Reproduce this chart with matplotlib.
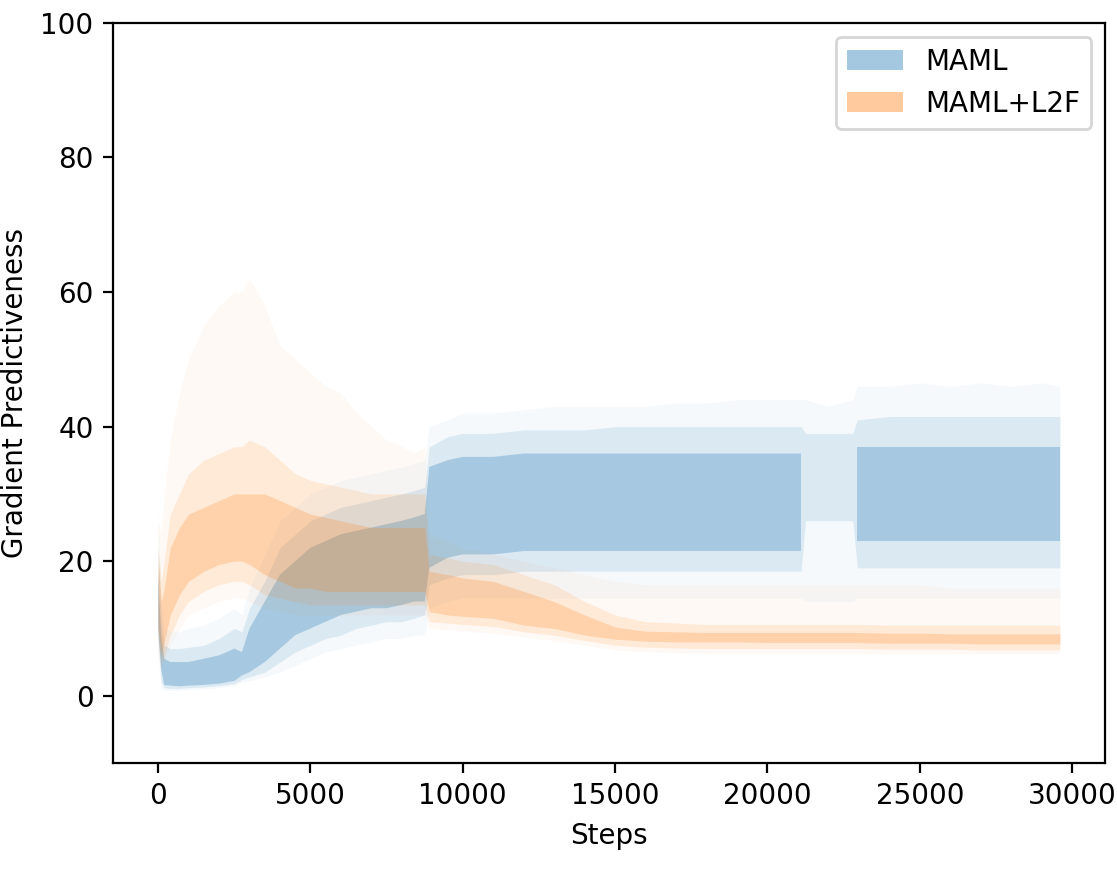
import numpy as np
import matplotlib
matplotlib.use("Agg")
import matplotlib.pyplot as plt
from matplotlib.patches import Patch

nan = float("nan")

steps = [0, 100, 200, 400, 700, 1000, 1500, 2000, 2500, 2750, 3000, 3500, 4000, 4500,
         5000, 5500, 6000, 6500, 7000, 7500, 8000, 8400, 8750, 8900, 9500, 10000,
         11000, 12000, 13000, 14000, 15000, 16000, 17000, 18000, 19000, 20000, 21000,
         21100, 21250, 22000, 22800, 22950, 24000, 25000, 26000, 27000, 28000, 29000, 29600]

# MAML: dense core, middle and faint outer envelopes
maml_core_lo = [10, 4, 1.6, 1.5, 1.4, 1.5, 1.6, 1.8, 2.2, 3.0, 3.5, 5, 7, 9, 10, 11, 12, 12.5, 13,
                13, 13.5, 14, 14, 19, 20.5, 21, 21, 21.5, 21.5, 21.5, 21.5, 21.5, 21.5, 21.5, 21.5,
                21.5, 21.5, 21.5, nan, nan, nan, 23, 23, 23, 23, 23, 23, 23, 23]
maml_core_hi = [18, 9, 5.5, 5, 5, 5, 5.5, 6, 7, 6.5, 10, 14, 18, 20, 22, 23, 24, 24.5, 25, 25.5,
                26, 26.5, 27, 34, 35, 35.5, 35.5, 36, 36, 36, 36, 36, 36, 36, 36, 36, 36, 36,
                nan, nan, nan, 37, 37, 37, 37, 37, 37, 37, 37]
maml_mid_lo = [8, 2, 1.2, 1.1, 1.1, 1.2, 1.3, 1.5, 1.8, 2.4, 2.8, 3.5, 5, 6.5, 7.5, 8.5, 9, 10,
               10.5, 11, 11, 11.5, 12, 16.5, 17.5, 18, 18, 18.5, 18.5, 18.5, 18.5, 18.5, 18.5, 18.5,
               18.5, 18.5, 18.5, 18.5, 26, 26, 26, 19, 19, 19, 19, 19, 19, 19, 19]
maml_mid_hi = [22, 11, 7.5, 7, 7, 7.2, 7.5, 8.5, 10, 9.5, 13, 17, 22, 24, 26, 27, 28, 28.5, 29,
               29.5, 30, 30.5, 31, 37, 38.5, 39, 39, 39.5, 39.5, 39.5, 40, 40, 40, 40, 40, 40, 40,
               40, 39, 39, 39, 41, 41.5, 41.5, 41.5, 41.5, 41.5, 41.5, 41.5]
maml_out_lo = [6, 1, 0.8, 0.8, 0.8, 0.9, 1.0, 1.2, 1.5, 2, 2.2, 2.8, 3.5, 4.5, 5.5, 6.5, 7, 7.5,
               8, 8.5, 8.5, 9, 9, 13, 14, 14.5, 14.5, 14.5, 14.5, 14.5, 14.5, 14.5, 14.5, 14.5,
               14.5, 14.5, 14.5, 14.5, 14, 14, 14, 14.5, 14.5, 14.5, 14.5, 14.5, 14.5, 14.5, 14.5]
maml_out_hi = [28, 14, 10, 9.5, 9.5, 10, 10.5, 11.5, 13, 12, 16, 21, 26, 28, 30, 31, 32, 32.5,
               33, 33.5, 34, 34.5, 35, 40, 41, 42, 42, 42.5, 43, 43, 43, 43, 43.5, 43.5, 44, 44,
               44, 44, 44, 43, 44, 46, 46, 46.5, 46, 46.5, 46, 46.5, 46]

# MAML+L2F
l2f_core_lo = [10, 6, 8, 12, 15, 17, 18.5, 19.5, 20, 20, 19.5, 18, 17, 16, 16, 15.5, 15.5, 15.5,
               15.5, 15.5, 15.5, 15.5, 15.5, 12.5, 12, 11.8, 11.5, 10.5, 10, 9, 8.4, 8.1, 8.0,
               8.0, 8.0, 7.9, 7.9, 7.9, 7.9, 7.9, 7.9, 7.9, 7.8, 7.8, 7.8, 7.7, 7.7, 7.7, 7.7]
l2f_core_hi = [20, 14, 16, 22, 25, 27, 28, 29, 30, 30, 30, 30, 29, 28, 27, 26.5, 26, 25.5, 25,
               25, 25, 25, 25, 18.5, 18, 17.5, 17, 15.5, 14, 12, 10.2, 9.6, 9.5, 9.4, 9.4, 9.4,
               9.4, 9.4, 9.4, 9.4, 9.4, 9.4, 9.3, 9.3, 9.2, 9.2, 9.2, 9.2, 9.2]
l2f_mid_lo = [8, 5, 6, 9, 12, 14, 15.5, 16.5, 17, 17, 16.5, 15, 14.5, 14, 13.5, 13.5, 13.5, 13.5,
              13.5, 13.5, 13.5, 13.5, 13.5, 11, 10.8, 10.6, 10.3, 9.5, 9, 8.2, 7.5, 7.2, 7.1, 7,
              7, 7, 7, 7, 7, 7, 7, 7, 6.9, 6.9, 6.9, 6.8, 6.8, 6.8, 6.8]
l2f_mid_hi = [22, 17, 20, 27, 30, 33, 35, 36, 37, 37, 38, 37, 35, 33, 32, 31.5, 31, 30.5, 30, 30,
              30, 30, 30, 21, 20.5, 20, 19.5, 18, 16.5, 14, 12, 11, 10.8, 10.6, 10.6, 10.6, 10.6,
              10.6, 10.6, 10.6, 10.6, 10.6, 10.5, 10.5, 10.5, 10.5, 10.5, 10.5, 10.5]
l2f_out_lo = [6, 4, 5, 7.5, 10, 12, 13, 14, 14.5, 14.5, 14, 13, 12.5, 12, 12, 12, 12, 12, 12, 12,
              12, 12, 12, 10, 9.8, 9.6, 9.3, 8.7, 8.2, 7.5, 6.8, 6.5, 6.4, 6.3, 6.3, 6.3, 6.3,
              6.3, 6.3, 6.3, 6.3, 6.3, 6.2, 6.2, 6.2, 6.2, 6.2, 6.2, 6.2]
l2f_out_hi = [26, 24, 30, 38, 45, 50, 55, 58, 60, 60, 62, 58, 52, 50, 48, 46, 45, 42, 40, 38, 37,
              36, 37, 24, 23, 22, 21, 20, 19, 18, 17, 16.5, 16.5, 16.5, 16.5, 16.5, 16.5, 16.5,
              16.5, 16.5, 16.5, 16.5, 16.5, 16.5, 16, 16, 16, 16, 16]

plt.rcParams["font.size"] = 10

fig = plt.figure(figsize=(1117 / 200, 869 / 200), dpi=200)
ax = fig.add_axes([0.1012, 0.1220, 0.8881, 0.8516])

x = np.array(steps)
series = [
    ("C0", 0.28, maml_out_lo, maml_out_hi, maml_mid_lo, maml_mid_hi, maml_core_lo, maml_core_hi),
    ("C1", 0.22, l2f_out_lo, l2f_out_hi, l2f_mid_lo, l2f_mid_hi, l2f_core_lo, l2f_core_hi),
]
for color, core_alpha, olo, ohi, mlo, mhi, clo, chi in series:
    ax.fill_between(x, olo, ohi, color=color, alpha=0.04, linewidth=0)
    ax.fill_between(x, mlo, mhi, color=color, alpha=0.12, linewidth=0)
    ax.fill_between(x, clo, chi, color=color, alpha=core_alpha, linewidth=0)

ax.set_xlim(-1480, 31080)
ax.set_ylim(-10, 100)
ax.set_xlabel("Steps")
ax.set_ylabel("Gradient Predictiveness")

handles = [Patch(facecolor="C0", alpha=0.4, label="MAML"),
           Patch(facecolor="C1", alpha=0.4, label="MAML+L2F")]
ax.legend(handles=handles, loc="upper right")

fig.savefig("out.png", dpi=200)
